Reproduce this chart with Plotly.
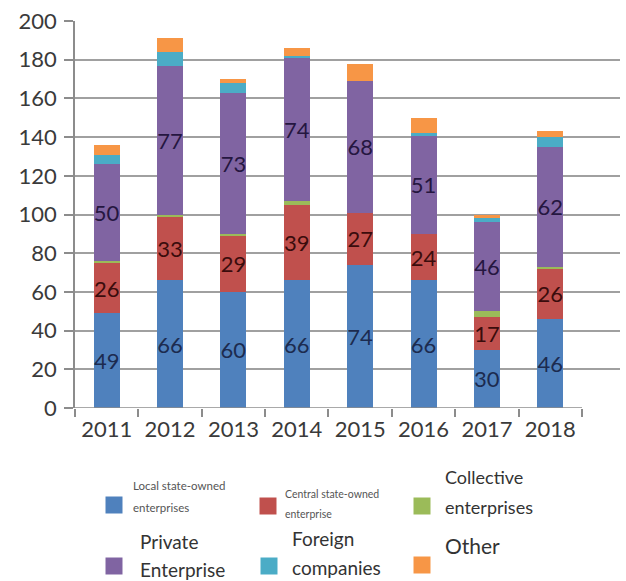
import plotly.graph_objects as go

# Enterprise counts by ownership type, 2011-2018
years = ["2011", "2012", "2013", "2014", "2015", "2016", "2017", "2018"]
local_soe = [49, 66, 60, 66, 74, 66, 30, 46]
central_soe = [26, 33, 29, 39, 27, 24, 17, 26]
collective = [1, 1, 1, 2, 0, 0, 3, 1]
private = [50, 77, 73, 74, 68, 51, 46, 62]
foreign = [5, 7, 5, 1, 0, 1, 2, 5]
other = [5, 7, 2, 4, 9, 8, 2, 3]

series_names = [
    "Local state-owned enterprises",
    "Central state-owned enterprise",
    "Collective enterprises",
    "Private Enterprise",
    "Foreign companies",
    "Other",
]
series_values = [local_soe, central_soe, collective, private, foreign, other]
series_colors = ["#4F81BD", "#C0504D", "#9BBB59", "#8064A2", "#4BACC6", "#F79646"]
labelled = [True, True, False, True, False, False]
label_colors = ["#1c2b4f", "#3a0c0c", None, "#251640", None, None]

FONT = "Lato, Carlito, 'Open Sans', sans-serif"
TEXT = "#3a3a3a"

fig = go.Figure()
for name, vals, col, lab, lcol in zip(series_names, series_values, series_colors,
                                      labelled, label_colors):
    fig.add_trace(go.Bar(
        x=years, y=vals, name=name,
        marker=dict(color=col, line=dict(width=0)),
        text=[str(v) for v in vals] if lab else None,
        textposition="inside" if lab else "none",
        insidetextanchor="middle",
        textangle=0,
        textfont=dict(family=FONT, size=22, color=lcol or "#000"),
        showlegend=False,
    ))

# plot-area geometry (pixels) used to place the legend below the chart
W, H = 626, 581
L, R, T, B = 75, 620, 21, 408


def px_x(px):
    return (px - L) / (R - L)


def px_y(py):
    return (B - py) / (B - T)


# legend: swatch centre and text lines (text, x, y, size) for each series
legend_layout = [
    ((114, 505), [("Local state-owned", 131, 485, 11.5), ("enterprises", 131, 508, 11.5)]),
    ((268, 506), [("Central state-owned", 283, 494, 10.5), ("enterprise", 283, 514, 10.5)]),
    ((422, 506), [("Collective", 443, 477, 18), ("enterprises", 443, 507, 18)]),
    ((114, 566), [("Private", 138, 541, 19), ("Enterprise", 138, 569, 19)]),
    ((269, 566), [("Foreign", 290, 538, 19), ("companies", 290, 567, 19)]),
    ((422, 565), [("Other", 443, 545, 21)]),
]

shapes = []
annotations = []
for (sw, lines), col in zip(legend_layout, series_colors):
    cx, cy = sw
    shapes.append(dict(
        type="rect", xref="paper", yref="paper",
        x0=px_x(cx - 8.5), x1=px_x(cx + 8.5),
        y0=px_y(cy + 8.5), y1=px_y(cy - 8.5),
        fillcolor=col, line=dict(width=0), layer="above",
    ))
    for txt, tx, ty, sz in lines:
        annotations.append(dict(
            text=txt, xref="paper", yref="paper",
            x=px_x(tx), y=px_y(ty), xanchor="left", yanchor="middle",
            showarrow=False,
            font=dict(family=FONT, size=sz, color="#333333" if sz > 14 else "#555555"),
        ))

# x-axis baseline spanning only the category band
shapes.append(dict(
    type="line", xref="x", yref="y", x0=-0.5, x1=7.5, y0=0, y1=0,
    line=dict(color="#8c8c8c", width=1.5), layer="above",
))

fig.update_layout(
    width=W, height=H,
    margin=dict(l=L, r=W - R, t=T, b=H - B),
    barmode="stack",
    bargap=0.59,
    plot_bgcolor="white",
    paper_bgcolor="white",
    uniformtext=dict(minsize=22, mode="show"),
    font=dict(family=FONT, color=TEXT),
    shapes=shapes,
    annotations=annotations,
    showlegend=False,
)

fig.update_xaxes(
    type="category",
    range=[-0.5, 8.1],
    showline=False,
    showgrid=False,
    ticks="outside",
    tickson="boundaries",
    ticklen=8,
    tickwidth=1.5,
    tickcolor="#8c8c8c",
    ticklabelstandoff=6,
    tickfont=dict(family=FONT, size=22, color=TEXT),
)

fig.update_yaxes(
    range=[0, 200],
    dtick=20,
    showgrid=True,
    gridcolor="#a0a0a0",
    gridwidth=1.5,
    zeroline=False,
    showline=True,
    linecolor="#8c8c8c",
    linewidth=1.5,
    ticks="outside",
    ticklen=9,
    tickwidth=1.5,
    tickcolor="#8c8c8c",
    ticklabelstandoff=3,
    tickfont=dict(family=FONT, size=22, color=TEXT),
)

fig.write_html("out.html")
